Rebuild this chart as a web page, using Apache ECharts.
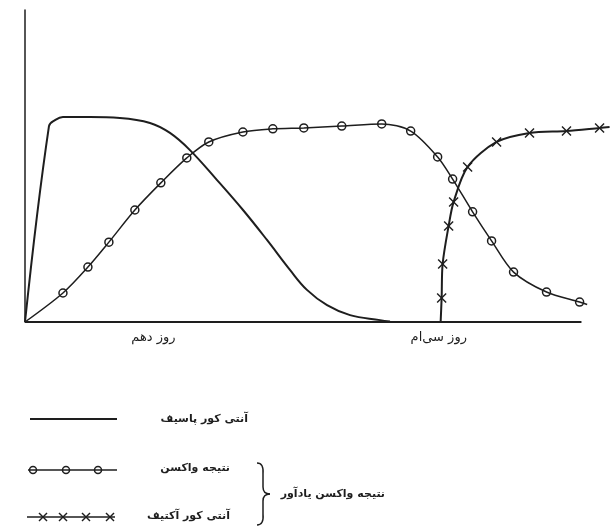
<!DOCTYPE html>
<html>
<head>
<meta charset="utf-8">
<script src="https://cdn.jsdelivr.net/npm/echarts@6/dist/echarts.min.js"></script>
<style>
  html, body { margin: 0; padding: 0; background: #fff; }
  #main { width: 610px; height: 529px; }
</style>
</head>
<body>
<div id="main"></div>
<script>
// روزها و سطح آنتی کور (واحد دلخواه 0 تا 100)
const dayLabels = { 10: 'روز دهم', 30: 'روز سی‌ام' };
const axisEndDay = 40;
const legendNames = ['آنتی کور پاسیف', 'نتیجه واکسن', 'آنتی کور آکتیف'];
const groupLabel = 'نتیجه واکسن یادآور';

const passiveX = [1, 2.68, 3.1, 3.66, 5.55, 7.65, 9.76, 11.16, 12.56, 14.46, 16.28, 17.96, 19.57, 20.76, 22.17, 23.78, 25.88, 26.58];
const passiveY = [0, 62.8, 64.7, 65.7, 65.7, 65.4, 63.8, 60.6, 55.1, 45.5, 35.9, 26.3, 16.7, 10.3, 5.4, 2.2, 0.6, 0.15];

const vaccineX = [1, 3.66, 5.41, 6.88, 8.7, 10.52, 12.34, 13.88, 16.27, 18.37, 20.54, 23.2, 26.0, 28.03, 29.92, 30.97, 32.37, 33.7, 35.24, 37.55, 39.87, 40.4];
const vaccineY = [0, 9.3, 17.6, 25.6, 35.9, 44.6, 52.6, 57.7, 60.9, 61.9, 62.2, 62.8, 63.5, 61.2, 52.9, 45.8, 35.3, 26.0, 16.0, 9.6, 6.4, 5.6];

const activeX = [30.13, 30.2, 30.27, 30.69, 31.04, 32.02, 34.05, 36.36, 38.95, 41.27, 41.97];
const activeY = [0, 7.7, 18.6, 30.8, 38.5, 49.7, 57.7, 60.6, 61.2, 62.2, 62.5];

const ink = '#1e1e1e';
const crossPath = 'path://M0,1 L1,0 L5,4 L9,0 L10,1 L6,5 L10,9 L9,10 L5,6 L1,10 L0,9 L4,5 Z';

function zip(xs, ys, bare) {
  // bare: نقطه‌هایی که علامت ندارند
  return xs.map(function (x, i) {
    if (bare.indexOf(i) >= 0) return { value: [x, ys[i]], symbol: 'none' };
    return [x, ys[i]];
  });
}

function stroke(w) {
  return { stroke: ink, lineWidth: w, fill: 'none' };
}
function seg(x1, y1, x2, y2, w) {
  return { type: 'line', shape: { x1: x1, y1: y1, x2: x2, y2: y2 }, style: stroke(w) };
}
function curve(x1, y1, cx, cy, x2, y2) {
  return { type: 'bezierCurve', shape: { x1: x1, y1: y1, cpx1: cx, cpy1: cy, x2: x2, y2: y2 }, style: stroke(1.5) };
}
function label(text, x, y) {
  return { type: 'text', x: x, y: y, style: { text: text, align: 'right', verticalAlign: 'middle', fill: ink, font: 'bold 11px "DejaVu Sans"' } };
}

// راهنمای پایین نمودار
let legendParts = [
  seg(30, 419, 117, 419, 2),
  seg(28, 470, 117, 470, 1.5),
  seg(27, 517, 115, 517, 1.5),
  label(legendNames[0], 248, 419),
  label(legendNames[1], 230, 468),
  label(legendNames[2], 230, 516),
  label(groupLabel, 385, 494),
  curve(257, 463, 264, 463, 263, 474),
  seg(263, 474, 263, 487, 1.5),
  curve(263, 487, 263, 494, 270, 494),
  curve(270, 494, 263, 494, 263, 501),
  seg(263, 501, 263, 514, 1.5),
  curve(263, 514, 264, 525, 257, 525)
];
[33, 66, 98].forEach(function (cx) {
  legendParts.push({ type: 'circle', shape: { cx: cx, cy: 470, r: 3.5 }, style: stroke(1.5) });
});
[43, 63, 86, 110].forEach(function (cx) {
  legendParts.push(seg(cx - 4, 513, cx + 4, 521, 1.5));
  legendParts.push(seg(cx + 4, 513, cx - 4, 521, 1.5));
});

let myChart = echarts.init(document.getElementById('main'));
let option = {
  backgroundColor: '#fff',
  animation: false,
  grid: { left: 25, right: 0, top: 10, bottom: 207 },
  xAxis: {
    type: 'value',
    min: 1,
    max: 42,
    // خط محور کوتاه‌تر از ناحیه رسم است، پایین‌تر با markLine کشیده می‌شود
    axisLine: { show: false },
    axisTick: { show: false },
    splitLine: { show: false },
    axisLabel: {
      customValues: [10, 30],
      margin: 9,
      color: ink,
      fontSize: 13,
      fontFamily: 'DejaVu Sans',
      formatter: function (v) { return dayLabels[v] || ''; }
    }
  },
  yAxis: {
    type: 'value',
    min: 0,
    max: 100,
    axisLine: { show: true, lineStyle: { color: ink, width: 1.5 } },
    axisTick: { show: false },
    axisLabel: { show: false },
    splitLine: { show: false }
  },
  series: [
    {
      name: legendNames[0],
      type: 'line',
      smooth: 0.4,
      symbol: 'none',
      lineStyle: { color: ink, width: 2 },
      data: zip(passiveX, passiveY, []),
      markLine: {
        silent: true,
        symbol: ['none', 'none'],
        label: { show: false },
        lineStyle: { color: ink, width: 2, type: 'solid' },
        data: [[{ coord: [1, 0] }, { coord: [axisEndDay, 0] }]]
      }
    },
    {
      name: legendNames[1],
      type: 'line',
      smooth: 0.3,
      symbol: 'circle',
      symbolSize: 8,
      lineStyle: { color: ink, width: 1.5 },
      itemStyle: { color: 'rgba(255,255,255,0)', borderColor: ink, borderWidth: 1.5 },
      data: zip(vaccineX, vaccineY, [0, vaccineX.length - 1])
    },
    {
      name: legendNames[2],
      type: 'line',
      smooth: 0.3,
      symbol: crossPath,
      symbolSize: 10,
      lineStyle: { color: ink, width: 2 },
      itemStyle: { color: ink },
      data: zip(activeX, activeY, [0, activeX.length - 1])
    }
  ],
  graphic: legendParts
};

option && myChart.setOption(option);
</script>
</body>
</html>
